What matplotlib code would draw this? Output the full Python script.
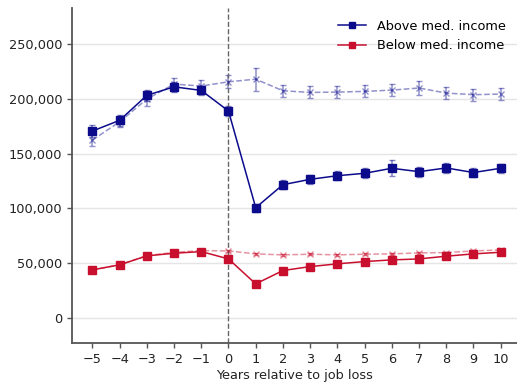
import matplotlib
matplotlib.use("Agg")
import matplotlib.pyplot as plt
import matplotlib.ticker as ticker
from matplotlib.lines import Line2D

NAVY = "#0B0B8C"
CRIMSON = "#C8102E"
FS = 9.3

years = list(range(-5, 11))

# Above median income: job losers (solid) and counterfactual (dashed)
above_loss = [170600, 180400, 203200, 211000, 207700, 188900, 100600, 121600,
              126500, 129800, 132000, 136600, 133500, 136900, 132700, 136600]
above_loss_err = [5500, 5000, 5000, 4500, 4500, 5000, 3500, 4000,
                  4000, 4000, 4500, 7500, 4500, 4500, 4500, 4000]
above_ctrl = [162400, 179000, 199800, 213500, 211700, 215600, 218000, 207400,
              205900, 206200, 206800, 208000, 209900, 205300, 203800, 204400]
above_ctrl_err = [5500, 5000, 6000, 6000, 5500, 6000, 10500, 5500,
                  5500, 5500, 5500, 5500, 6500, 5500, 5500, 5500]

# Below median income
below_loss = [43800, 48400, 56600, 59000, 60500, 53800, 31000, 43200,
              46800, 49300, 51400, 52900, 53800, 56300, 58400, 59900]
below_loss_err = [1200, 1200, 1300, 1300, 1300, 1300, 1200, 1200,
                  1200, 1200, 1300, 1300, 1300, 1300, 1400, 1400]
below_ctrl = [43800, 48400, 56800, 59800, 61400, 61100, 58400, 57500,
              58100, 57500, 58100, 58400, 59300, 59600, 61100, 62000]
below_ctrl_err = [800, 800, 800, 800, 900, 900, 900, 900,
                  900, 900, 900, 900, 900, 900, 900, 900]

fig = plt.figure(figsize=(5.17, 3.85), dpi=100)
ax = fig.add_axes([72 / 517, 42 / 385, 445 / 517, 335 / 385])

ax.errorbar(years, above_ctrl, yerr=above_ctrl_err, color=NAVY, alpha=0.45,
            linestyle="--", marker="x", markersize=4.5, capsize=2.5, linewidth=1.1)
ax.errorbar(years, below_ctrl, yerr=below_ctrl_err, color=CRIMSON, alpha=0.45,
            linestyle="--", marker="x", markersize=4.5, capsize=2.5, linewidth=1.1)
ax.errorbar(years, above_loss, yerr=above_loss_err, color=NAVY, linestyle="-",
            marker="s", markersize=5.5, capsize=2.5, linewidth=1.1,
            ecolor=(0.04, 0.04, 0.55, 0.5))
ax.errorbar(years, below_loss, yerr=below_loss_err, color=CRIMSON, linestyle="-",
            marker="s", markersize=5.5, capsize=2.5, linewidth=1.1,
            ecolor=(0.78, 0.06, 0.18, 0.5))

ax.axvline(0, color="#666666", linestyle="--", linewidth=1)

ax.set_xlim(-5.75, 10.6)
ax.set_ylim(-23000, 283000)
ax.set_xticks(years)
ax.set_xticklabels([f"\u2212{-y}" if y < 0 else str(y) for y in years])
ax.yaxis.set_major_locator(ticker.MultipleLocator(50000))
ax.yaxis.set_major_formatter(ticker.FuncFormatter(lambda x, p: f"{int(x):,}"))
ax.grid(axis="y", color="#E5E5E5", linewidth=1)
ax.set_axisbelow(True)

for side in ["top", "right"]:
    ax.spines[side].set_visible(False)
for side in ["left", "bottom"]:
    ax.spines[side].set_color("#555555")
    ax.spines[side].set_linewidth(1.3)
ax.tick_params(axis="both", labelsize=FS, colors="#555555", labelcolor="#222222",
               length=3.5, width=1)

ax.set_xlabel("Years relative to job loss", fontsize=FS, color="#222222", labelpad=2)

handles = [
    Line2D([], [], color=NAVY, marker="s", markersize=4, linewidth=1.1),
    Line2D([], [], color=CRIMSON, marker="s", markersize=4, linewidth=1.1),
]
ax.legend(handles, ["Above med. income", "Below med. income"], loc="upper right",
          fontsize=FS, frameon=False, bbox_to_anchor=(1.0, 1.0), handlelength=2.2,
          labelspacing=0.5)

fig.savefig("out.png", dpi=100)
